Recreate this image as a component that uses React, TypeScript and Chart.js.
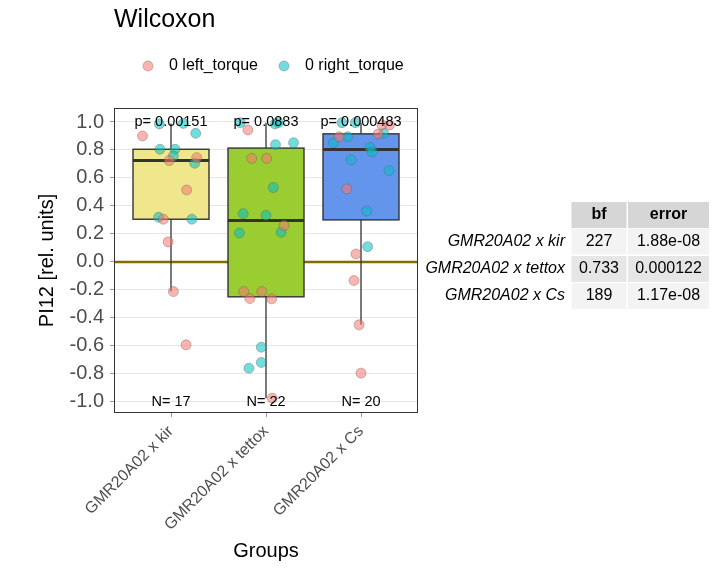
import { useEffect, useRef } from 'react';
import { Chart, registerables } from 'chart.js';

Chart.register(...registerables);

const FONT = '"Liberation Sans", Arial, sans-serif';

const groups = ['GMR20A02 x kir', 'GMR20A02 x tettox', 'GMR20A02 x Cs'];
const groupPositions = [1, 2, 3];
const boxColors = ['#F0E68C', '#9ACD32', '#6495ED'];
const pValues = ['p= 0.00151', 'p= 0.0883', 'p= 0.000483'];
const yTicks = [-1, -0.8, -0.6, -0.4, -0.2, 0, 0.2, 0.4, 0.6, 0.8, 1];
const seriesNames = ['0 left_torque', '0 right_torque'];

// GMR20A02 x kir
const kirLeft = [0.9, 0.724, 0.745, 0.514, 0.305, 0.143, -0.212, -0.593];
const kirLeftJitter = [-0.3, -0.018, 0.27, 0.165, -0.08, -0.03, 0.025, 0.158];
const kirRight = [0.986, 0.99, 0.919, 0.805, 0.805, 0.757, 0.705, 0.319, 0.305];
const kirRightJitter = [-0.123, 0.13, 0.26, -0.116, 0.042, 0.025, 0.25, -0.13, 0.22];

// GMR20A02 x tettox
const tettoxLeft = [0.943, 0.74, 0.74, 0.26, -0.212, -0.212, -0.262, -0.264, -0.974];
const tettoxLeftJitter = [-0.19, -0.15, 0.007, 0.19, -0.235, -0.045, -0.17, 0.06, 0.066];
const tettoxRight = [0.995, 0.986, 0.995, 0.838, 0.852, 0.531, 0.345, 0.333, 0.207, 0.212, -0.61, -0.719, -0.76];
const tettoxRightJitter = [-0.27, 0.095, 0.13, 0.1, 0.29, 0.077, -0.24, 0.0, -0.28, 0.16, -0.05, -0.05, -0.18];

// GMR20A02 x Cs
const csLeft = [0.979, 0.979, 0.914, 0.895, 0.521, 0.057, -0.133, -0.45, -0.795];
const csLeftJitter = [0.22, 0.3, 0.18, -0.23, -0.15, -0.053, -0.074, -0.02, 0.0];
const csRight = [0.995, 0.995, 0.919, 0.895, 0.852, 0.817, 0.788, 0.729, 0.652, 0.364, 0.109];
const csRightJitter = [-0.2, -0.06, 0.24, -0.14, -0.29, 0.095, 0.116, -0.105, 0.295, 0.06, 0.07];

// Bayes factor table
const bfValues = ['227', '0.733', '189'];
const errorValues = ['1.88e-08', '0.000122', '1.17e-08'];

const leftByGroup = [kirLeft, tettoxLeft, csLeft];
const leftJitterByGroup = [kirLeftJitter, tettoxLeftJitter, csLeftJitter];
const rightByGroup = [kirRight, tettoxRight, csRight];
const rightJitterByGroup = [kirRightJitter, tettoxRightJitter, csRightJitter];

function quantile(sorted: number[], p: number) {
  const h = (sorted.length - 1) * p;
  const lo = Math.floor(h);
  const hi = Math.ceil(h);
  return sorted[lo] + (h - lo) * (sorted[hi] - sorted[lo]);
}

function boxStats(values: number[]) {
  const s = [...values].sort((a, b) => a - b);
  const q1 = quantile(s, 0.25);
  const med = quantile(s, 0.5);
  const q3 = quantile(s, 0.75);
  const iqr = q3 - q1;
  const lo = s.filter((v) => v >= q1 - 1.5 * iqr)[0];
  const hiArr = s.filter((v) => v <= q3 + 1.5 * iqr);
  const hi = hiArr[hiArr.length - 1];
  return { q1, med, q3, lo, hi };
}

const PINK = 'rgba(248,118,109,0.55)';
const CYAN = 'rgba(0,191,196,0.55)';
const PT_BORDER = 'rgba(90,90,90,0.45)';

function buildPoints(vals: number[][], jit: number[][]) {
  const out: { x: number; y: number }[] = [];
  vals.forEach((arr, g) => {
    arr.forEach((v, i) => out.push({ x: groupPositions[g] + jit[g][i], y: v }));
  });
  return out;
}

const boxPlugin = {
  id: 'boxPlugin',
  beforeDatasetsDraw(chart: any) {
    const { ctx, chartArea, scales } = chart;
    const xs = scales.x;
    const ys = scales.y;
    ctx.save();
    ctx.beginPath();
    ctx.rect(chartArea.left, chartArea.top, chartArea.right - chartArea.left, chartArea.bottom - chartArea.top);
    ctx.clip();
    // zero reference line
    const y0 = ys.getPixelForValue(0);
    ctx.strokeStyle = '#836C00';
    ctx.lineWidth = 2.5;
    ctx.beginPath();
    ctx.moveTo(chartArea.left, y0);
    ctx.lineTo(chartArea.right, y0);
    ctx.stroke();

    groupPositions.forEach((pos, g) => {
      const st = boxStats([...leftByGroup[g], ...rightByGroup[g]]);
      const xl = xs.getPixelForValue(pos - 0.4);
      const xr = xs.getPixelForValue(pos + 0.4);
      const xc = xs.getPixelForValue(pos);
      const yq1 = ys.getPixelForValue(st.q1);
      const yq3 = ys.getPixelForValue(st.q3);
      const ym = ys.getPixelForValue(st.med);
      const ylo = ys.getPixelForValue(st.lo);
      const yhi = ys.getPixelForValue(st.hi);
      ctx.strokeStyle = '#333333';
      ctx.lineWidth = 1.3;
      ctx.beginPath();
      ctx.moveTo(xc, yq3);
      ctx.lineTo(xc, yhi);
      ctx.moveTo(xc, yq1);
      ctx.lineTo(xc, ylo);
      ctx.stroke();
      ctx.fillStyle = boxColors[g];
      ctx.fillRect(xl, yq3, xr - xl, yq1 - yq3);
      ctx.lineWidth = 1.4;
      ctx.strokeRect(xl, yq3, xr - xl, yq1 - yq3);
      ctx.lineWidth = 3;
      ctx.beginPath();
      ctx.moveTo(xl, ym);
      ctx.lineTo(xr, ym);
      ctx.stroke();
    });
    ctx.restore();
  },
  afterDatasetsDraw(chart: any) {
    const { ctx, chartArea, scales } = chart;
    const xs = scales.x;
    const ys = scales.y;
    ctx.save();
    ctx.fillStyle = '#000000';
    ctx.font = `14.5px ${FONT}`;
    ctx.textAlign = 'center';
    ctx.textBaseline = 'middle';
    groupPositions.forEach((pos, g) => {
      const xc = xs.getPixelForValue(pos);
      ctx.fillText(pValues[g], xc, ys.getPixelForValue(1.0));
      const n = leftByGroup[g].length + rightByGroup[g].length;
      ctx.fillText(`N= ${n}`, xc, ys.getPixelForValue(-1.0));
    });
    ctx.strokeStyle = '#333333';
    ctx.lineWidth = 1;
    ctx.strokeRect(chartArea.left + 0.5, chartArea.top + 0.5, chartArea.right - chartArea.left - 1, chartArea.bottom - chartArea.top - 1);
    ctx.restore();
  },
  afterDraw(chart: any) {
    const { ctx } = chart;
    ctx.save();
    // title
    ctx.fillStyle = '#000000';
    ctx.font = `25px ${FONT}`;
    ctx.textAlign = 'left';
    ctx.textBaseline = 'middle';
    ctx.fillText('Wilcoxon', 114, 20);
    // legend
    const legendX = [148, 284];
    const legendColors = [PINK, CYAN];
    ctx.font = `16px ${FONT}`;
    seriesNames.forEach((name, i) => {
      ctx.beginPath();
      ctx.arc(legendX[i], 66, 5, 0, Math.PI * 2);
      ctx.fillStyle = legendColors[i];
      ctx.fill();
      ctx.strokeStyle = PT_BORDER;
      ctx.lineWidth = 0.8;
      ctx.stroke();
      ctx.fillStyle = '#000000';
      ctx.fillText(name, legendX[i] + 21, 66);
    });
    // table
    const colBf = [571.5, 626.5];
    const colErr = [628, 709];
    const rowTops = [202, 228.5, 256, 283];
    const rowH = 26;
    const rowBg = ['#F3F3F3', '#E6E6E6', '#F3F3F3'];
    ctx.fillStyle = '#D6D6D6';
    ctx.fillRect(colBf[0], rowTops[0], colBf[1] - colBf[0], rowH);
    ctx.fillRect(colErr[0], rowTops[0], colErr[1] - colErr[0], rowH);
    ctx.textAlign = 'center';
    ctx.fillStyle = '#000000';
    ctx.font = `bold 16px ${FONT}`;
    ctx.fillText('bf', (colBf[0] + colBf[1]) / 2, rowTops[0] + rowH / 2);
    ctx.fillText('error', (colErr[0] + colErr[1]) / 2, rowTops[0] + rowH / 2);
    groups.forEach((name, i) => {
      const top = rowTops[i + 1];
      ctx.fillStyle = rowBg[i];
      ctx.fillRect(colBf[0], top, colBf[1] - colBf[0], rowH);
      ctx.fillRect(colErr[0], top, colErr[1] - colErr[0], rowH);
      ctx.fillStyle = '#000000';
      ctx.font = `16px ${FONT}`;
      ctx.textAlign = 'center';
      ctx.fillText(bfValues[i], (colBf[0] + colBf[1]) / 2, top + rowH / 2);
      ctx.fillText(errorValues[i], (colErr[0] + colErr[1]) / 2, top + rowH / 2);
      ctx.font = `italic 16px ${FONT}`;
      ctx.textAlign = 'right';
      ctx.fillText(name, 565, top + rowH / 2);
    });
    ctx.restore();
  },
};

export default function App() {
  const ref = useRef<HTMLCanvasElement | null>(null);
  useEffect(() => {
    if (!ref.current) return;
    const chart = new Chart(ref.current, {
      type: 'scatter',
      data: {
        datasets: [
          {
            label: seriesNames[0],
            data: buildPoints(leftByGroup, leftJitterByGroup),
            backgroundColor: PINK,
            borderColor: PT_BORDER,
            borderWidth: 0.8,
            pointRadius: 5,
          },
          {
            label: seriesNames[1],
            data: buildPoints(rightByGroup, rightJitterByGroup),
            backgroundColor: CYAN,
            borderColor: PT_BORDER,
            borderWidth: 0.8,
            pointRadius: 5,
          },
        ],
      },
      options: {
        animation: false,
        responsive: false,
        events: [],
        layout: { padding: { top: 108, right: 300, left: 0, bottom: 0 } },
        plugins: {
          legend: { display: false },
          tooltip: { enabled: false },
          title: { display: false },
        },
        scales: {
          x: {
            type: 'linear',
            min: 0.4,
            max: 3.6,
            afterBuildTicks: (s: any) => {
              s.ticks = groupPositions.map((v) => ({ value: v }));
            },
            afterFit: (s: any) => {
              s.height = 160;
            },
            ticks: {
              autoSkip: false,
              minRotation: 45,
              maxRotation: 45,
              padding: 5,
              color: '#4D4D4D',
              font: { family: FONT, size: 16 },
              callback: (v: any) => groups[Math.round(Number(v)) - 1],
            },
            grid: { drawOnChartArea: false, drawTicks: true, tickLength: 4, tickColor: '#9A9A9A' },
            border: { display: false },
            title: {
              display: true,
              text: 'Groups',
              color: '#000000',
              font: { family: FONT, size: 20 },
              padding: { top: 0, bottom: 10 },
            },
          },
          y: {
            type: 'linear',
            min: -1.08,
            max: 1.1,
            afterBuildTicks: (s: any) => {
              s.ticks = yTicks.map((v) => ({ value: v }));
            },
            afterFit: (s: any) => {
              s.width = 114;
            },
            ticks: {
              padding: 6,
              color: '#4D4D4D',
              font: { family: FONT, size: 20 },
              callback: (v: any) => Number(v).toFixed(1),
            },
            grid: { color: '#E6E6E6', lineWidth: 1, drawTicks: true, tickLength: 4, tickColor: '#9A9A9A' },
            border: { display: false },
            title: {
              display: true,
              text: 'PI12 [rel. units]',
              color: '#000000',
              font: { family: FONT, size: 20 },
              padding: { top: 35, bottom: 0 },
            },
          },
        },
      },
      plugins: [boxPlugin],
    } as any);
    return () => chart.destroy();
  }, []);
  return (
    <div style={{ position: 'absolute', left: 0, top: 0, width: 718, height: 573 }}>
      <canvas ref={ref} width={718} height={573} style={{ width: 718, height: 573 }} />
    </div>
  );
}
